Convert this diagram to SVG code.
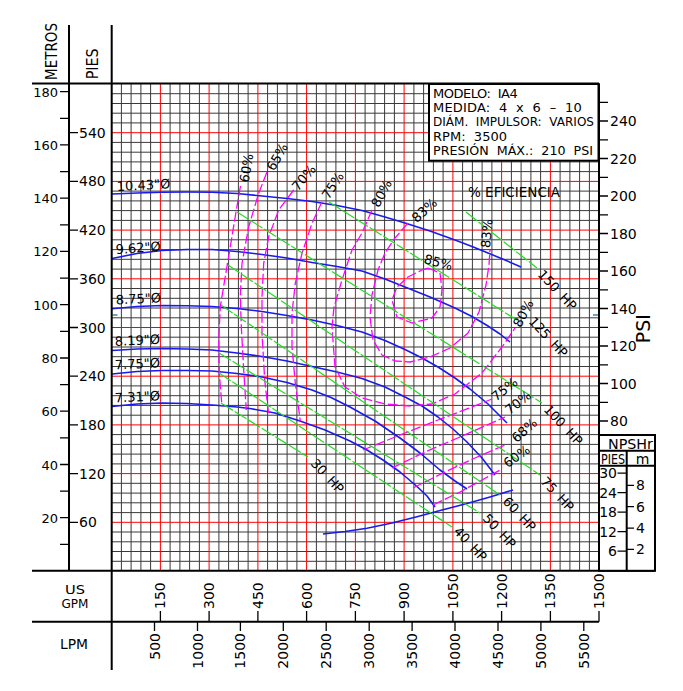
<svg xmlns="http://www.w3.org/2000/svg" width="683" height="691" viewBox="0 0 683 691">
<style>
text{font-family:"DejaVu Sans","Liberation Sans",sans-serif;fill:#000}
.n{font-size:14px}
.s{font-size:13px}
.g{fill:none;stroke:#3a3a3a;stroke-width:1}
.r{fill:none;stroke:#ff0000;stroke-width:1}
.f{fill:none;stroke:#000;stroke-width:2}
.t{fill:none;stroke:#000;stroke-width:1.3}
.imp{fill:none;stroke:#1a1aee;stroke-width:1.6;stroke-linejoin:round}
.eff{fill:none;stroke:#ff00ff;stroke-width:1.3;stroke-dasharray:10 3;stroke-linejoin:round}
.hp{fill:none;stroke:#22dd22;stroke-width:1.2;stroke-dasharray:14 2}
.mk{fill:none;stroke:#3d85a8;stroke-width:1.6}
</style>
<rect width="683" height="691" fill="#fff"/>
<g id="grid">
<path class="g" d="M121.4 84V571M131.1 84V571M140.9 84V571M150.6 84V571M170.1 84V571M179.9 84V571M189.6 84V571M199.4 84V571M218.9 84V571M228.6 84V571M238.4 84V571M248.1 84V571M267.6 84V571M277.4 84V571M287.1 84V571M296.9 84V571M316.4 84V571M326.1 84V571M335.9 84V571M345.6 84V571M365.1 84V571M374.9 84V571M384.6 84V571M394.4 84V571M413.9 84V571M423.6 84V571M433.4 84V571M443.1 84V571M462.6 84V571M472.4 84V571M482.1 84V571M491.9 84V571M511.4 84V571M521.1 84V571M530.9 84V571M540.6 84V571M560.1 84V571M569.9 84V571M579.6 84V571M589.4 84V571"/>
<path class="g" d="M111.6 561.3H599.1M111.6 551.5H599.1M111.6 541.8H599.1M111.6 532H599.1M111.6 512.6H599.1M111.6 502.8H599.1M111.6 493.1H599.1M111.6 483.3H599.1M111.6 463.9H599.1M111.6 454.1H599.1M111.6 444.4H599.1M111.6 434.6H599.1M111.6 415.2H599.1M111.6 405.4H599.1M111.6 395.7H599.1M111.6 385.9H599.1M111.6 366.5H599.1M111.6 356.7H599.1M111.6 347H599.1M111.6 337.2H599.1M111.6 317.8H599.1M111.6 308H599.1M111.6 298.3H599.1M111.6 288.5H599.1M111.6 269.1H599.1M111.6 259.3H599.1M111.6 249.6H599.1M111.6 239.8H599.1M111.6 220.4H599.1M111.6 210.6H599.1M111.6 200.9H599.1M111.6 191.1H599.1M111.6 171.6H599.1M111.6 161.9H599.1M111.6 152.2H599.1M111.6 142.4H599.1M111.6 122.9H599.1M111.6 113.2H599.1M111.6 103.5H599.1M111.6 93.7H599.1"/>
<path class="r" d="M160.4 84V571M209.1 84V571M257.9 84V571M306.6 84V571M355.4 84V571M404.1 84V571M452.9 84V571M501.6 84V571M550.4 84V571"/>
<path class="r" d="M111.6 522.3H599.1M111.6 473.6H599.1M111.6 424.9H599.1M111.6 376.2H599.1M111.6 327.5H599.1M111.6 278.8H599.1M111.6 230.1H599.1M111.6 181.4H599.1M111.6 132.7H599.1"/>
<path class="mk" d="M112.5 315H117.5M593 315H599"/>
</g>
<g id="connectors">
<polyline id="imp-1043" class="imp" points="112,194 137,193 162,192.3 187,192 212,192.2 237,193.5 262,196 287,198.5 312,201.5 337,205.5 362,210.5 385,217 405,223 430,231 455,240 472,246.5 488,253 505,260 521,267"/>
<polyline id="imp-962" class="imp" points="112,258.5 137,253.5 162,250.5 187,249.5 212,249.5 237,251.5 262,254.5 287,258 312,262.5 337,266.5 362,271 385,279 405,287 430,297 455,308 472,316.5 488,326 500,334 510,342"/>
<polyline id="imp-875" class="imp" points="112,308.8 137,306.5 162,305.5 187,305.8 212,306.5 237,308.5 262,311.5 287,315.5 312,320 337,325.5 362,332 385,340.5 405,349.5 422,358 438,367 455,378 470,389 488,404 507,423"/>
<polyline id="imp-819" class="imp" points="112,350.5 137,349 162,348.5 187,349 212,350 237,353 262,356.5 287,361 312,366.5 337,372 362,378.5 385,387 405,397 422,406 438,417 453,429 467,442 482,458 495,475"/>
<polyline id="imp-775" class="imp" points="112,374 137,371.5 162,370.5 187,370.5 212,371 237,373.5 262,377 287,382.5 312,390 331,397.5 350,407 375,421 400,438 420,453 440,470 455,481 467,489"/>
<polyline id="imp-731" class="imp" points="112,406.5 137,404 162,403 187,403.5 212,405 237,407 250,408.5 275,413 300,421 325,430 350,441 367,450 383,460 400,472 417,486.5 427,496 435,507"/>
<polyline id="npsh" class="imp" points="323,534 345,531.5 367,528.3 392,523 417,516.7 442,510 467,503.5 490,497 513,490"/>
<polyline id="e60" class="eff" points="240.5,186 236,212 230.3,246.7 224.7,280 220.3,306.7 218.7,340 219.3,373.3 222,406.7"/>
<polyline id="e65" class="eff" points="267,172 258.7,193.3 248.7,226.7 242,263.3 240.3,296.7 241.3,326.7 243.7,370 246.3,410"/>
<polyline id="e70" class="eff" points="293.7,190 278.7,210 268.7,236.7 263.7,263.3 262,296.7 262,333.3 264.7,380 268.5,413"/>
<polyline id="e75" class="eff" points="322,201.7 312,223.3 302,253.3 295.3,283.3 292,313.3 292,346.7 295.3,383.3 300.3,421"/>
<polyline id="e80" class="eff" points="372,210 362,233 352,250 342,280 334,307 332,327 335,367 345,387 362,398 385,404 410,406 432,404 455,394 482,373 502,347 515,328"/>
<polyline id="e83" class="eff" points="408,223 395,238 385,253 378,270 372,295 370,317 373,340 382,355 395,361 410,362 430,357 450,348 468,333 479,312 486,285 489,265 490,250"/>
<polygon id="e85" class="eff" points="428,268 440,273 442,290 440,307 432,318 412,323 397,317 392,300 397,287 408,277 422,270"/>
<polyline id="e75r" class="eff" points="363,450 405,433 438,420 472,407 492,399"/>
<polyline id="e70r" class="eff" points="392,468 425,452 460,437 485,426 505,417"/>
<polyline id="e68r" class="eff" points="413,488 445,472 475,458 505,445"/>
<polyline id="e60r" class="eff" points="433,505 460,492 482,480 502,469"/>
<path id="hp30" class="hp" d="M221 403L308 457"/>
<path id="hp40" class="hp" d="M219 373L452 527"/>
<path id="hp50" class="hp" d="M219 353L480 513"/>
<path id="hp60" class="hp" d="M221 305L500 495"/>
<path id="hp75" class="hp" d="M228 265L540 475"/>
<path id="hp100" class="hp" d="M237 212L542 403"/>
<path id="hp125" class="hp" d="M329 202L520 322"/>
<path id="hp150" class="hp" d="M466 212L537 268"/>
</g>
<g id="frame">
<path class="f" d="M32 83.5H599M69 25V571M111.7 25V670M599 83.5V571M32 570.8H655M32 621.7H599"/>
<path class="t" d="M60 544.4H69M60 517.7H69M60 491.1H69M60 464.5H69M60 437.9H69M60 411.2H69M60 384.6H69M60 358H69M60 331.3H69M60 304.7H69M60 278.1H69M60 251.4H69M60 224.8H69M60 198.2H69M60 171.6H69M60 144.9H69M60 118.3H69M60 91.7H69"/>
<path class="t" d="M69 522.3H78M69 473.6H78M69 424.9H78M69 376.2H78M69 327.5H78M69 278.8H78M69 230.1H78M69 181.4H78M69 132.7H78"/>
<path class="t" d="M599 421H608M599 402.3H608M599 383.5H608M599 364.8H608M599 346H608M599 327.3H608M599 308.5H608M599 289.8H608M599 271H608M599 252.3H608M599 233.5H608M599 214.8H608M599 196H608M599 177.3H608M599 158.5H608M599 139.8H608M599 121H608M599 102.3H608"/>
<path class="t" d="M160.4 611V621.7M209.1 611V621.7M257.9 611V621.7M306.6 611V621.7M355.4 611V621.7M404.1 611V621.7M452.9 611V621.7M501.6 611V621.7M550.4 611V621.7M599 611V621.7"/>
<path class="t" d="M154.5 621.7V631M197.5 621.7V631M240.4 621.7V631M283.3 621.7V631M326.2 621.7V631M369.2 621.7V631M412.1 621.7V631M455 621.7V631M498 621.7V631M540.9 621.7V631M583.8 621.7V631"/>
<text transform="translate(56.7,80) rotate(-90)" style="font-size:15px" textLength="57" lengthAdjust="spacingAndGlyphs">METROS</text>
<text transform="translate(98.3,79.3) rotate(-90)" style="font-size:15px" textLength="31" lengthAdjust="spacingAndGlyphs">PIES</text>
<g class="s" text-anchor="end">
<text x="58" y="96.7">180</text><text x="58" y="149.9">160</text><text x="58" y="203.2">140</text><text x="58" y="256.4">120</text><text x="58" y="309.7">100</text><text x="58" y="363">80</text><text x="58" y="416.2">60</text><text x="58" y="469.5">40</text><text x="58" y="522.7">20</text>
</g>
<g class="n">
<text x="79" y="137.7">540</text><text x="79" y="186.4">480</text><text x="79" y="235.1">420</text><text x="79" y="283.8">360</text><text x="79" y="332.5">300</text><text x="79" y="381.2">240</text><text x="79" y="429.9">180</text><text x="79" y="478.6">120</text><text x="79" y="527.3">60</text>
</g>
<g class="n">
<text x="610" y="126">240</text><text x="610" y="163.5">220</text><text x="610" y="201">200</text><text x="610" y="238.5">180</text><text x="610" y="276">160</text><text x="610" y="313.5">140</text><text x="610" y="351">120</text><text x="610" y="388.5">100</text><text x="610" y="426">80</text>
</g>
<text transform="translate(650,343.3) rotate(-90)" style="font-size:19px">PSI</text>
<g class="n">
<text transform="translate(165.4,609) rotate(-90)">150</text>
<text transform="translate(214.1,609) rotate(-90)">300</text>
<text transform="translate(262.9,609) rotate(-90)">450</text>
<text transform="translate(311.6,609) rotate(-90)">600</text>
<text transform="translate(360.4,609) rotate(-90)">750</text>
<text transform="translate(409.1,609) rotate(-90)">900</text>
<text transform="translate(457.9,609) rotate(-90)">1050</text>
<text transform="translate(506.6,609) rotate(-90)">1200</text>
<text transform="translate(555.4,609) rotate(-90)">1350</text>
<text transform="translate(604,609) rotate(-90)">1500</text>
</g>
<g class="n" text-anchor="end">
<text transform="translate(159.5,633) rotate(-90)">500</text>
<text transform="translate(202.5,633) rotate(-90)">1000</text>
<text transform="translate(245.4,633) rotate(-90)">1500</text>
<text transform="translate(288.3,633) rotate(-90)">2000</text>
<text transform="translate(331.2,633) rotate(-90)">2500</text>
<text transform="translate(374.2,633) rotate(-90)">3000</text>
<text transform="translate(417.1,633) rotate(-90)">3500</text>
<text transform="translate(460,633) rotate(-90)">4000</text>
<text transform="translate(503,633) rotate(-90)">4500</text>
<text transform="translate(545.9,633) rotate(-90)">5000</text>
<text transform="translate(588.8,633) rotate(-90)">5500</text>
</g>
<g text-anchor="middle" style="font-size:13px">
<text x="75" y="594" textLength="20" lengthAdjust="spacingAndGlyphs">US</text>
<text x="75" y="607.7" textLength="27" lengthAdjust="spacingAndGlyphs">GPM</text>
<text x="74" y="649.3" textLength="28" lengthAdjust="spacingAndGlyphs" style="font-size:14px">LPM</text>
</g>
</g>
<g id="info-box">
<rect x="429" y="84" width="169.5" height="76.7" fill="#fff" stroke="#000" stroke-width="2"/>
<g style="font-size:13px">
<text x="433" y="98.3" textLength="84.7" lengthAdjust="spacing">MODELO:&#160; IA4</text>
<text x="433" y="112.3" textLength="148.7" lengthAdjust="spacing">MEDIDA:&#160; 4&#160; x&#160; 6&#160; –&#160; 10</text>
<text x="433" y="126" textLength="161" lengthAdjust="spacingAndGlyphs">DIÁM.&#160; IMPULSOR:&#160; VARIOS</text>
<text x="433" y="140.7" textLength="74" lengthAdjust="spacing">RPM:&#160; 3500</text>
<text x="433" y="155" textLength="160" lengthAdjust="spacingAndGlyphs">PRESIÓN&#160; MÁX.:&#160; 210&#160; PSI</text>
</g>
</g>
<g id="npsh-box">
<rect x="599" y="435" width="56" height="135.8" fill="#fff" stroke="#000" stroke-width="2"/>
<path class="f" d="M599 450.7H655M599 465.7H655M626.7 450.7V570.8"/>
<path class="t" d="M617.5 551.2H626.7M617.5 531.7H626.7M617.5 512.2H626.7M617.5 492.7H626.7M617.5 473.2H626.7M626.7 549.4H634M626.7 528.1H634M626.7 506.7H634M626.7 485.4H634"/>
<text class="n" x="630.5" y="448.5" text-anchor="middle" textLength="45" lengthAdjust="spacingAndGlyphs">NPSHr</text>
<text class="n" x="613" y="463.5" text-anchor="middle" textLength="24" lengthAdjust="spacingAndGlyphs">PIES</text>
<text class="n" x="642.5" y="463.5" text-anchor="middle">m</text>
<g class="n" text-anchor="end">
<text x="617" y="478.2">30</text><text x="617" y="497.7">24</text><text x="617" y="517.2">18</text><text x="617" y="536.7">12</text><text x="617" y="556.2">6</text>
</g>
<g class="n">
<text x="636" y="490.4">8</text><text x="636" y="511.7">6</text><text x="636" y="533.1">4</text><text x="636" y="554.4">2</text>
</g>
</g>
<g id="labels" class="s">
<text x="468" y="197" textLength="92" lengthAdjust="spacingAndGlyphs" style="font-size:14px">% EFICIENCIA</text>
<text transform="translate(117,191) rotate(-3)">10.43"Ø</text>
<text transform="translate(116,254) rotate(-4)">9.62"Ø</text>
<text transform="translate(116,304.5) rotate(-3)">8.75"Ø</text>
<text transform="translate(115,346) rotate(-3)">8.19"Ø</text>
<text transform="translate(115,369.5) rotate(-3)">7.75"Ø</text>
<text transform="translate(115,402.5) rotate(-3)">7.31"Ø</text>
<text transform="translate(248.5,183) rotate(-80)">60%</text>
<text transform="translate(274,171.7) rotate(-60)">65%</text>
<text transform="translate(298,191.7) rotate(-50)">70%</text>
<text transform="translate(328.7,200) rotate(-57)">75%</text>
<text transform="translate(378.8,208.3) rotate(-62)">80%</text>
<text transform="translate(416.7,223.3) rotate(-42)">83%</text>
<text transform="translate(423.3,263) rotate(15)">85%</text>
<text transform="translate(490,248.3) rotate(-85)">83%</text>
<text transform="translate(520.5,328.3) rotate(-62)">80%</text>
<text transform="translate(496,401.7) rotate(-38)">75%</text>
<text transform="translate(509.5,415) rotate(-38)">70%</text>
<text transform="translate(516.7,443.3) rotate(-42)">68%</text>
<text transform="translate(507.4,468.3) rotate(-35)">60%</text>
<g style="word-spacing:3px">
<text transform="translate(537,275) rotate(47)">150 HP</text>
<text transform="translate(528,322) rotate(47)">125 HP</text>
<text transform="translate(543,410) rotate(47)">100 HP</text>
<text transform="translate(540,482) rotate(47)">75 HP</text>
<text transform="translate(502,502) rotate(47)">60 HP</text>
<text transform="translate(482,519) rotate(47)">50 HP</text>
<text transform="translate(453,532) rotate(47)">40 HP</text>
<text transform="translate(310,464) rotate(47)">30 HP</text>
</g>
</g>
</svg>
